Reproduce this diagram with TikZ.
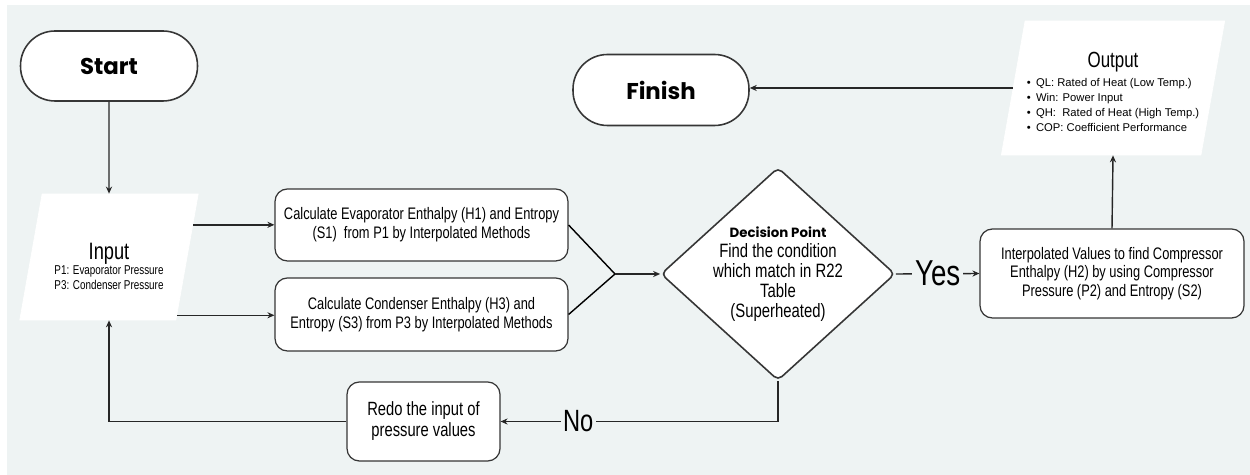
\documentclass[tikz,border=0pt]{standalone}
\usepackage{fontspec}
\setmainfont{Liberation Sans}
\newfontfamily\condfont[FakeStretch=0.77]{Liberation Sans}
\newfontfamily\headfont{Poppins}
\usetikzlibrary{arrows.meta,positioning,calc,shapes.geometric}
\definecolor{bgpanel}{HTML}{EEF3F3}
\definecolor{edgegray}{HTML}{363636}

\begin{document}
\begin{tikzpicture}[
  x=0.02cm, y=-0.02cm,
  font=\condfont\fontsize{9.5}{10.6}\selectfont,
  terminal/.style={draw=edgegray, fill=white, line width=0.9pt, rounded corners=0.69cm,
    minimum width=3.54cm, minimum height=1.4cm, font=\headfont\bfseries\fontsize{13}{15}\selectfont},
  process/.style={draw=edgegray, fill=white, line width=0.7pt, rounded corners=7pt,
    align=center, inner sep=2pt},
  iobox/.style={trapezium, trapezium stretches=true, fill=white, draw=white,
    align=center, inner sep=1pt},
  decide/.style={diamond, draw=edgegray, fill=white, line width=0.9pt, rounded corners=3pt,
    aspect=1.1, inner sep=0pt, minimum width=4.54cm, minimum height=4.06cm, align=center,
    font=\condfont\fontsize{11}{11.4}\selectfont},
  answer/.style={fill=bgpanel, inner sep=1.5pt, font=\condfont\fontsize{20.5}{22}\selectfont},
  arr/.style={-{Stealth[length=4pt,width=3.5pt]}, line width=0.8pt, draw=black!85}
]
\useasboundingbox (0,0) rectangle (1250,475);
\fill[bgpanel] (7,5) rectangle (1250,475);

% terminals
\node[terminal] (start) at (109,66) {Start};
\node[terminal, minimum width=3.52cm, minimum height=1.42cm] (finish) at (661,90) {Finish};

% input / output
\node[iobox, trapezium left angle=74.5, trapezium right angle=105.5,
  minimum width=3.6cm, minimum height=2.52cm,
  font=\condfont\fontsize{7.3}{8.3}\selectfont] (input) at (109,257)
  {\rule{0pt}{0.7cm}{\fontsize{13.5}{14}\selectfont Input}\\
   P1: Evaporator Pressure\\
   P3: Condenser Pressure};
\node[iobox, trapezium left angle=76.6, trapezium right angle=103.4,
  minimum width=4.2cm, minimum height=2.68cm] (output) at (1113,88)
  {\rule{0pt}{0.55cm}{\fontsize{12.5}{15}\selectfont Output}\\[1pt]
   \fontsize{6.4}{8.6}\selectfont\rmfamily
   \begin{tabular}{@{}l@{}}
   \textbullet\hspace{3pt}QL: Rated of Heat (Low Temp.)\\
   \textbullet\hspace{3pt}Win: Power Input\\
   \textbullet\hspace{3pt}QH:\ \ Rated of Heat (High Temp.)\\
   \textbullet\hspace{3pt}COP: Coefficient Performance
   \end{tabular}};

% calculations
\node[process, minimum width=5.86cm, minimum height=1.44cm] (evap) at (421.5,225)
  {Calculate Evaporator Enthalpy (H1) and Entropy\\(S1)\ \ from P1 by Interpolated Methods};
\node[process, minimum width=5.86cm, minimum height=1.46cm] (cond) at (421.5,314.5)
  {Calculate Condenser Enthalpy (H3) and\\Entropy (S3) from P3 by Interpolated Methods};
\node[decide] (check) at (778,274)
  {{\headfont\bfseries\fontsize{7.6}{10}\selectfont Decision Point}\\
   Find the condition\\ which match in R22\\ Table\\ (Superheated)};
\node[process, minimum width=5.28cm, minimum height=1.78cm] (comp) at (1112,273.5)
  {Interpolated Values to find Compressor\\Enthalpy (H2) by using Compressor\\Pressure (P2) and Entropy (S2)};
\node[process, minimum width=3.06cm, minimum height=1.58cm,
  font=\condfont\fontsize{10.9}{12}\selectfont] (redo) at (423.5,421.5)
  {Redo the input of\\pressure values};

% connectors
\coordinate (join) at (615,274);
\coordinate (in1) at ($(input.top right corner)!0.246!(input.bottom right corner)$);
\coordinate (in2) at ($(input.top right corner)!0.96!(input.bottom right corner)$);

\draw[arr] (start) -- (input);
\draw[arr] (in1) -- (in1 -| evap.west);
\draw[arr] (in2) -- (in2 -| cond.west);
\draw[line width=0.8pt] (evap.east) -- (join);
\draw[line width=0.8pt] (cond.east) -- (join);
\draw[arr] (join) -- (check.west);
\draw[arr] (check.east) -- node[answer] {Yes} (comp.west);
\draw[arr] (comp.north) -- (output.south);
\draw[arr] (output.west) -- (output.west -| finish.east);
\draw[arr] (check.south) |- node[answer, pos=0.86, font=\condfont\fontsize{17.5}{19}\selectfont] {No} (redo.east);
\draw[arr] (redo.west) -| (input.south);
\end{tikzpicture}
\end{document}
